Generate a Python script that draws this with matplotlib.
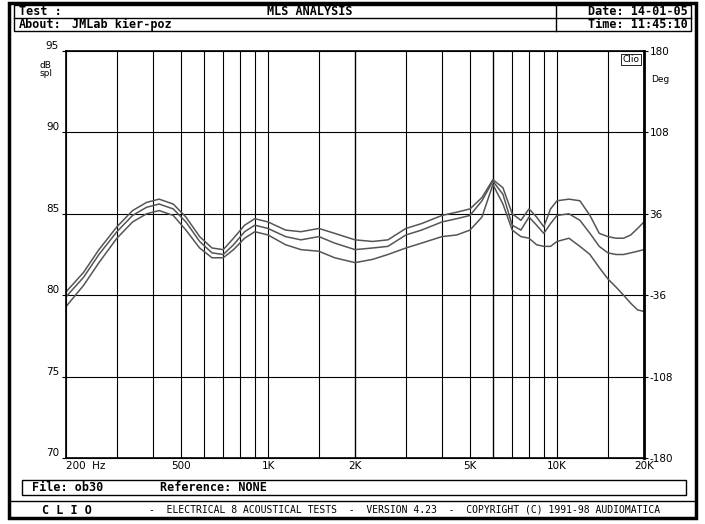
import matplotlib
matplotlib.use('Agg')
import matplotlib.pyplot as plt
from matplotlib.patches import Rectangle

W, H = 705, 524
MONO = 'DejaVu Sans Mono'

# ── data ──────────────────────────────────────────────────────────────────────
freq = [200, 230, 260, 300, 340, 380, 420, 470, 520, 580, 640, 700, 760, 830, 900,
        1000, 1150, 1300, 1500, 1700, 2000, 2300, 2600, 3000, 3400, 4000, 4500,
        5000, 5500, 6000, 6500, 7000, 7500, 8000, 8500, 9000, 9500, 10000, 11000,
        12000, 13000, 14000, 15000, 16000, 17000, 18000, 19000, 20000]
spl_top = [80.2, 81.4, 82.8, 84.2, 85.2, 85.7, 85.9, 85.6, 84.8, 83.6, 82.9, 82.8,
           83.5, 84.3, 84.7, 84.5, 84.0, 83.9, 84.1, 83.8, 83.4, 83.3, 83.4, 84.1,
           84.4, 84.9, 85.1, 85.3, 86.0, 87.1, 86.6, 85.0, 84.6, 85.3, 84.8, 84.2,
           85.3, 85.8, 85.9, 85.8, 84.9, 83.8, 83.6, 83.5, 83.5, 83.7, 84.1, 84.5]
spl_mid = [79.9, 81.1, 82.5, 83.9, 84.9, 85.4, 85.6, 85.3, 84.5, 83.3, 82.6, 82.5,
           83.1, 83.9, 84.3, 84.1, 83.6, 83.4, 83.6, 83.2, 82.8, 82.9, 83.0, 83.7,
           84.0, 84.5, 84.7, 84.9, 85.8, 87.0, 86.2, 84.3, 84.0, 84.8, 84.3, 83.8,
           84.4, 84.9, 85.0, 84.6, 83.8, 83.0, 82.6, 82.5, 82.5, 82.6, 82.7, 82.8]
spl_low = [79.3, 80.6, 82.0, 83.5, 84.5, 85.0, 85.2, 84.9, 84.0, 82.9, 82.3, 82.3,
           82.8, 83.5, 83.9, 83.7, 83.1, 82.8, 82.7, 82.3, 82.0, 82.2, 82.5, 82.9,
           83.2, 83.6, 83.7, 84.0, 84.8, 86.8, 85.6, 84.0, 83.6, 83.5, 83.1, 83.0,
           83.0, 83.3, 83.5, 83.0, 82.5, 81.7, 81.0, 80.5, 80.0, 79.5, 79.1, 79.0]

xtick_vals = [200, 500, 1000, 2000, 5000, 10000, 20000]
xtick_labels = ['200  Hz', '500', '1K', '2K', '5K', '10K', '20K']
grid_freqs = [300, 400, 500, 600, 700, 800, 900, 1000, 1500, 2000, 3000, 4000,
              5000, 6000, 7000, 8000, 9000, 10000, 15000]
db_ticks = [70, 75, 80, 85, 90, 95]
deg_labels = ['-180', '-108', '-36', '36', '108', '180']

fig = plt.figure(figsize=(W / 100, H / 100), dpi=100)
fig.patch.set_facecolor('white')
bg = fig.add_axes([0, 0, 1, 1])
bg.set_xlim(0, W)
bg.set_ylim(H, 0)
bg.axis('off')

def box(x0, y0, x1, y1, lw=1.0):
    bg.add_patch(Rectangle((x0, y0), x1 - x0, y1 - y0, fill=False, ec='black', lw=lw))

# outer frame + header
box(9, 3, 696, 518, lw=2.5)
box(14, 5, 691, 31, lw=1)
bg.plot([14, 691], [18, 18], color='black', lw=1)
bg.plot([556, 556], [5, 31], color='black', lw=1)
bg.plot([9, 696], [501, 501], color='black', lw=1)
kw = dict(family=MONO, fontsize=8.5, fontweight='bold', va='center')
bg.text(19, 11.5, 'Test :', **kw)
bg.text(19, 24.5, 'About:', **kw)
bg.text(72, 24.5, 'JMLab kier-poz', **kw)
bg.text(310, 11.5, 'MLS ANALYSIS', ha='center', **kw)
bg.text(688, 11.5, 'Date: 14-01-05', ha='right', **kw)
bg.text(688, 24.5, 'Time: 11:45:10', ha='right', **kw)

# file box + footer
box(22, 480, 686, 495, lw=1)
bg.text(32, 487.5, 'File: ob30', **kw)
bg.text(160, 487.5, 'Reference: NONE', **kw)
bg.text(42, 510, 'C L I O', **kw)
bg.text(405, 510, '-  ELECTRICAL 8 ACOUSTICAL TESTS  -  VERSION 4.23  -  '
        'COPYRIGHT (C) 1991-98 AUDIOMATICA', family=MONO, fontsize=7,
        ha='center', va='center')

# ── plot area ────────────────────────────────────────────────────────────────
L, R, T, B = 66, 644, 51, 458
ax = fig.add_axes([L / W, 1 - B / H, (R - L) / W, (B - T) / H])
ax.set_xscale('log')
ax.set_xlim(200, 20000)
ax.set_ylim(70, 95)
for f in grid_freqs:
    ax.axvline(f, color='black', lw=1.0 if f in (2000, 6000) else 0.8)
for d in db_ticks[1:-1]:
    ax.axhline(d, color='black', lw=0.8)
for s in ax.spines.values():
    s.set_linewidth(1.2)
ax.spines['right'].set_linewidth(2)

for y in (spl_top, spl_mid, spl_low):
    ax.plot(freq, y, color='#555555', lw=1.1)

ax.set_xticks(xtick_vals)
ax.set_xticklabels(xtick_labels, fontsize=7.5, family='DejaVu Sans')
ax.get_xticklabels()[0].set_horizontalalignment('left')
ax.get_xticklabels()[0].set_x(0)
ax.set_xticks([], minor=True)
ax.set_yticks(db_ticks)
ax.set_yticklabels([str(d) for d in db_ticks], fontsize=7.5, va='bottom')
ax.tick_params(length=3, pad=2)
ax.tick_params(axis='x', length=0, pad=2)
ax2 = ax.twinx()
ax2.set_ylim(70, 95)
ax2.set_yticks(db_ticks)
ax2.set_yticklabels(deg_labels, fontsize=7.5)
ax2.tick_params(length=3, pad=1)
ax.text(-0.045, 0.975, 'dB\nspl', transform=ax.transAxes, fontsize=6.5, va='top',
        linespacing=0.9)
ax2.text(1.012, 0.93, 'Deg', transform=ax.transAxes, fontsize=6.5, va='center')
ax.text(0.992, 0.99, 'Clio', transform=ax.transAxes, fontsize=6.5, ha='right', va='top',
        bbox=dict(fc='white', ec='black', lw=0.6, pad=1))

fig.savefig('out.png', dpi=100)
